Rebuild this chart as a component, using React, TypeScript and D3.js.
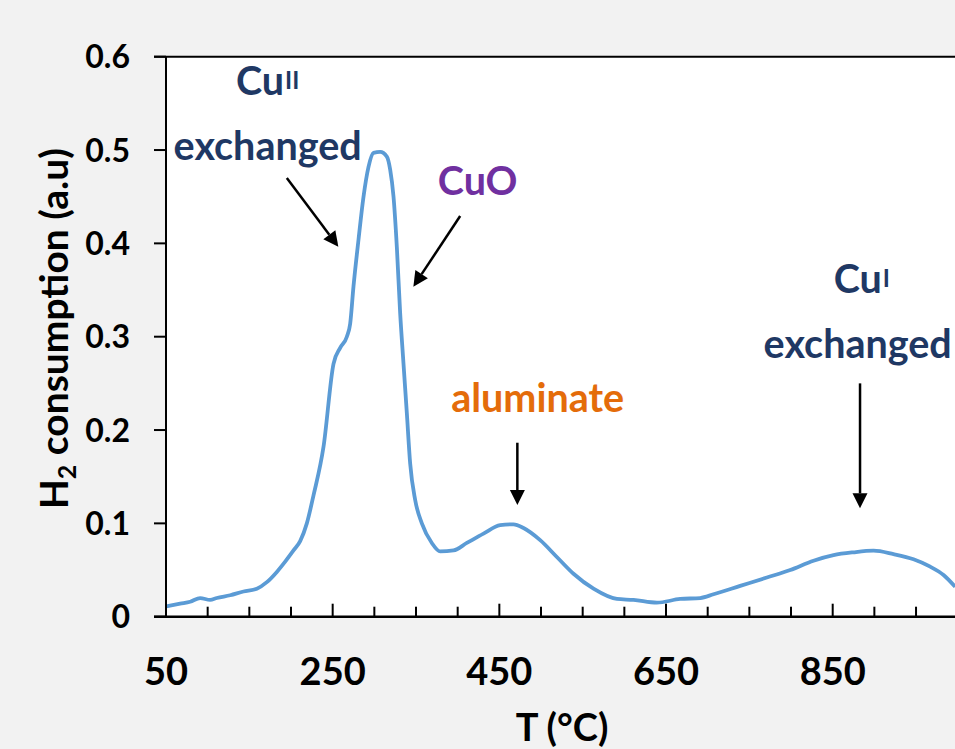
import React from "react";
import * as d3 from "d3";

// ---- data ----
const temps = [50, 67, 79, 91, 103, 111, 127, 143, 159, 171, 183, 193, 203, 211, 219, 227, 239, 251, 259, 267, 271, 275, 281, 287, 293, 299, 307, 315, 319, 323, 327, 331, 335, 339, 343, 349, 357, 369, 379, 395, 411, 431, 451, 467, 479, 499, 519, 539, 563, 591, 611, 639, 667, 691, 707, 739, 771, 799, 827, 851, 875, 899, 923, 947, 967, 983, 997];
const h2 = [0.011, 0.014, 0.016, 0.020, 0.018, 0.020, 0.023, 0.027, 0.030, 0.037, 0.048, 0.059, 0.071, 0.081, 0.100, 0.130, 0.182, 0.271, 0.288, 0.300, 0.314, 0.354, 0.404, 0.450, 0.482, 0.497, 0.498, 0.493, 0.479, 0.450, 0.396, 0.325, 0.271, 0.218, 0.164, 0.125, 0.100, 0.079, 0.070, 0.071, 0.079, 0.089, 0.098, 0.099, 0.095, 0.082, 0.064, 0.046, 0.030, 0.019, 0.018, 0.015, 0.019, 0.020, 0.024, 0.033, 0.042, 0.050, 0.060, 0.066, 0.069, 0.0707, 0.067, 0.0615, 0.0536, 0.0447, 0.032];

const xMajorTicks = [50, 250, 450, 650, 850];
const xMinorTicks = [100, 150, 200, 300, 350, 400, 500, 550, 600, 700, 750, 800, 900, 950];
const yTicks = [0, 0.1, 0.2, 0.3, 0.4, 0.5, 0.6];
const yTickLabels = ["0", "0.1", "0.2", "0.3", "0.4", "0.5", "0.6"];

// annotation labels (data units): text, superscript, x, y, colour
const labelTexts = ["Cu", "exchanged", "CuO", "aluminate", "Cu", "exchanged"];
const labelSups = ["II", "", "", "", "I", ""];
const labelT = [172, 172, 424, 496, 885, 880];
const labelV = [0.559, 0.489, 0.452, 0.2196, 0.347, 0.2772];
const labelColors = ["#1f3864", "#1f3864", "#7030a0", "#e46c0a", "#1f3864", "#1f3864"];

// arrows (data units): start -> tip
const arrowT0 = [195, 403, 471.6, 882.8];
const arrowV0 = [0.470, 0.4293, 0.1864, 0.25];
const arrowT1 = [256.8, 346.8, 471.6, 882.8];
const arrowV1 = [0.3964, 0.3536, 0.1197, 0.1161];

const W = 955;
const H = 749;
const left = 166;
const top = 56.7;
const bottom = 616.7;
const right = 957.7;
const FONT = "Lato, 'Open Sans', sans-serif";

export default function App() {
  if (typeof document !== "undefined") document.body.style.margin = "0";
  const x = d3.scaleLinear().domain([50, 1000]).range([left, right]);
  const y = d3.scaleLinear().domain([0, 0.6]).range([bottom, top]);
  const pts = temps.map((t, i) => [t, h2[i]] as [number, number]);
  const line = d3
    .line<[number, number]>()
    .x((d) => x(d[0]))
    .y((d) => y(d[1]))
    .curve(d3.curveMonotoneX);

  const arrows = arrowT0.map((_, i) => {
    const x0 = x(arrowT0[i]);
    const y0 = y(arrowV0[i]);
    const x1 = x(arrowT1[i]);
    const y1 = y(arrowV1[i]);
    const ang = Math.atan2(y1 - y0, x1 - x0);
    const hl = 15;
    const hw = 7.5;
    const bx = x1 - hl * Math.cos(ang);
    const by = y1 - hl * Math.sin(ang);
    const px = -Math.sin(ang) * hw;
    const py = Math.cos(ang) * hw;
    return { x0, y0, bx, by, x1, y1, px, py };
  });

  return (
    <svg width={W} height={H} style={{ position: "absolute", left: 0, top: 0, display: "block" }} fontFamily={FONT}>
      <rect x={0} y={0} width={W} height={H} fill="#f2f2f2" />
      <rect x={left} y={top} width={right - left} height={bottom - top} fill="#ffffff" />

      <defs>
        <clipPath id="plotclip">
          <rect x={left} y={top} width={right - left} height={bottom - top} />
        </clipPath>
      </defs>
      <path d={line(pts) || ""} fill="none" stroke="#5b9bd5" strokeWidth={3.8} strokeLinejoin="round" clipPath="url(#plotclip)" />

      {/* axes */}
      <line x1={left} x2={left} y1={top} y2={bottom} stroke="#000" strokeWidth={2} />
      <line x1={left - 12} x2={right} y1={top} y2={top} stroke="#000" strokeWidth={2} />
      <line x1={left - 12} x2={right} y1={bottom} y2={bottom} stroke="#000" strokeWidth={2.5} />
      {yTicks.map((v, i) => (
        <g key={"yt" + i}>
          <line x1={left - 12} x2={left} y1={y(v)} y2={y(v)} stroke="#000" strokeWidth={2} />
          <text x={130} y={y(v)} dy="0.36em" textAnchor="end" fontSize={32} fontWeight="bold" fill="#000">
            {yTickLabels[i]}
          </text>
        </g>
      ))}
      {xMajorTicks.map((t) => (
        <g key={"xm" + t}>
          <line x1={x(t)} x2={x(t)} y1={bottom - 13} y2={bottom} stroke="#000" strokeWidth={2} />
          <text x={x(t)} y={685} textAnchor="middle" fontSize={38} fontWeight="bold" fill="#000">
            {t}
          </text>
        </g>
      ))}
      {xMinorTicks.map((t) => (
        <line key={"xn" + t} x1={x(t)} x2={x(t)} y1={bottom - 10} y2={bottom} stroke="#000" strokeWidth={2} />
      ))}

      {/* axis titles */}
      <text x={562} y={741} textAnchor="middle" fontSize={38} fontWeight="bold" fill="#000">
        T (°C)
      </text>
      <text transform={`translate(68, ${(top + bottom) / 2 - 8}) rotate(-90)`} textAnchor="middle" fontSize={39} fontWeight="bold" fill="#000">
        H<tspan fontSize={25} dy={8}>2</tspan>
        <tspan dy={-8}> consumption (a.u)</tspan>
      </text>

      {/* annotations */}
      {labelTexts.map((s, i) => (
        <text key={"lb" + i} x={x(labelT[i])} y={y(labelV[i])} textAnchor="middle" fontSize={39.5} fontWeight="bold" fill={labelColors[i]}>
          {s}
          {labelSups[i] ? (
            <tspan fontSize={24} dy={-6} dx={1}>
              {labelSups[i]}
            </tspan>
          ) : null}
        </text>
      ))}
      {arrows.map((a, i) => (
        <g key={"ar" + i}>
          <line x1={a.x0} y1={a.y0} x2={a.bx} y2={a.by} stroke="#000" strokeWidth={2.5} />
          <polygon points={`${a.x1},${a.y1} ${a.bx + a.px},${a.by + a.py} ${a.bx - a.px},${a.by - a.py}`} fill="#000" />
        </g>
      ))}
    </svg>
  );
}
